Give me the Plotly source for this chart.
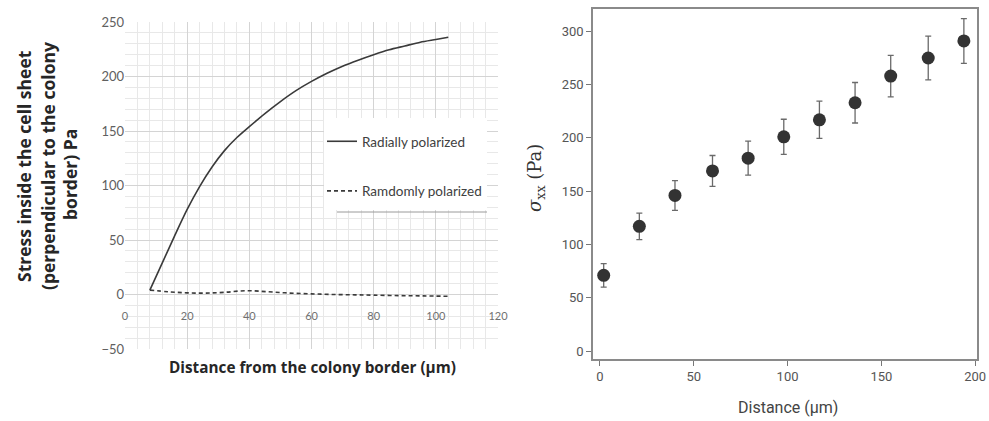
import plotly.graph_objects as go

# ---- Left chart data ----
radial_x = [8, 12, 16, 20, 24, 28, 32, 36, 40, 45, 50, 55, 60, 65, 70, 75, 80, 85, 90, 95, 100, 104]
radial_y = [4, 29, 54, 78, 99, 117, 132, 144, 154, 166, 177, 187, 195.5, 203, 209.5, 215, 220, 224.5, 228, 231.5, 234, 236]
random_x = [8, 14, 20, 26, 32, 39, 46, 53, 60, 67, 74, 80, 88, 96, 104]
random_y = [4, 2.5, 1.5, 1.3, 2, 3.5, 2.5, 1.3, 0.6, 0, -0.3, -0.6, -1, -1.3, -1.6]
left_xticks = [0, 20, 40, 60, 80, 100, 120]
left_yticks = [-50, 0, 50, 100, 150, 200, 250]

# ---- Right chart data ----
dist_x = [2, 21, 40, 60, 79, 98, 117, 136, 155, 175, 194]
sigma_y = [71, 117, 146, 169, 181, 201, 217, 233, 258, 275, 291]
sigma_err = [11, 12.5, 14, 14.5, 16, 16.5, 17.5, 19, 19.5, 20.5, 21]
right_xticks = [0, 50, 100, 150, 200]
right_yticks = [0, 50, 100, 150, 200, 250, 300]

W, H = 989, 421


def px(x):
    return x / W


def py(y):
    return 1 - y / H


lx0, lx1 = px(125), px(498)
ly0, ly1 = py(349), py(22)
rx0, rx1 = px(593), px(977)
ry0, ry1 = py(359), py(9)

fig = go.Figure()

fig.add_trace(go.Scatter(
    x=radial_x, y=radial_y, mode="lines", name="Radially polarized",
    line=dict(color="#3a3a3a", width=1.6, shape="spline", smoothing=0.8),
    xaxis="x", yaxis="y", legendgroup="a"))
fig.add_trace(go.Scatter(
    x=random_x, y=random_y, mode="lines", name="Ramdomly polarized",
    line=dict(color="#3a3a3a", width=1.6, dash="4px,3px", shape="spline"),
    xaxis="x", yaxis="y", legendgroup="b"))

fig.add_trace(go.Scatter(
    x=dist_x, y=sigma_y, mode="markers", showlegend=False,
    marker=dict(color="#333333", size=13),
    error_y=dict(type="data", array=sigma_err, color="#6a6a6a", thickness=1.3, width=3),
    xaxis="x2", yaxis="y2"))

zero_pos = ly0 + (ly1 - ly0) * (0 - (-50)) / 300.0

lato = "Lato, 'Open Sans', sans-serif"
bold_font = "'Open Sans', Lato, sans-serif"
narrow = "'Liberation Sans Narrow', Roboto, sans-serif"

fig.update_layout(
    template="none",
    width=W, height=H, autosize=False,
    margin=dict(l=0, r=0, t=0, b=0, pad=0, autoexpand=False),
    paper_bgcolor="white", plot_bgcolor="white",
    showlegend=True,
    legend=dict(
        x=px(322), y=py(126), xanchor="left", yanchor="top",
        bgcolor="rgba(255,255,255,0)", borderwidth=0,
        font=dict(family=lato, size=13.5, color="#404040"),
        traceorder="grouped", tracegroupgap=29, itemwidth=30,
    ),
    xaxis=dict(
        domain=[lx0, lx1], range=[0, 120], anchor="free", position=zero_pos,
        automargin=False,
        tickvals=left_xticks, ticks="outside", ticklen=11,
        tickcolor="rgba(0,0,0,0)",
        showgrid=True, gridcolor="#d4d4d4", gridwidth=1,
        minor=dict(dtick=4, ticks="", showgrid=True, gridcolor="#e8e8e8", gridwidth=1),
        zeroline=False, showline=False,
        tickfont=dict(family=lato, size=11, color="#707070"),
    ),
    yaxis=dict(
        domain=[ly0, ly1], range=[-50, 250], anchor="x",
        automargin=False,
        tickvals=left_yticks,
        showgrid=True, gridcolor="#d4d4d4", gridwidth=1,
        minor=dict(dtick=10, ticks="", showgrid=True, gridcolor="#e8e8e8", gridwidth=1),
        zeroline=False, showline=False, ticks="",
        tickfont=dict(family=lato, size=13, color="#606060"),
    ),
    xaxis2=dict(
        domain=[rx0, rx1], range=[-3.7, 201], anchor="y2",
        automargin=False, ticklabeloverflow="allow",
        tickvals=right_xticks, ticks="outside", ticklen=5, tickcolor="#777777",
        showgrid=False, zeroline=False,
        showline=True, mirror=True, linecolor="#8a8a8a", linewidth=1.5,
        tickfont=dict(family=narrow, size=13, color="#555555"),
    ),
    yaxis2=dict(
        domain=[ry0, ry1], range=[-7.5, 321], anchor="x2",
        automargin=False,
        tickvals=right_yticks, ticks="outside", ticklen=5, tickcolor="#777777",
        showgrid=False, zeroline=False,
        showline=True, mirror=True, linecolor="#8a8a8a", linewidth=1.5,
        tickfont=dict(family=narrow, size=13, color="#555555"),
    ),
    shapes=[
        dict(type="rect", xref="paper", yref="paper",
             x0=px(324), x1=px(487), y0=py(210), y1=py(118),
             fillcolor="white", line=dict(width=0), layer="above"),
        dict(type="line", xref="paper", yref="paper",
             x0=px(337), x1=px(487), y0=py(212), y1=py(212),
             line=dict(color="#9a9a9a", width=1), layer="above"),
    ],
    annotations=[
        dict(text=t, xref="paper", yref="paper", x=px(xc), y=py(yc),
             xanchor="center", yanchor="middle", textangle=-90, showarrow=False,
             font=dict(family=bold_font, size=17.5, color="#262626", weight="bold"))
        for t, xc, yc in [("Stress inside the cell sheet", 24, 166),
                          ("(perpendicular to the colony", 48, 166),
                          ("border) Pa", 70, 175)]
    ] + [
        dict(text="Distance from the colony border (µm)",
             xref="paper", yref="paper", x=px(312), y=py(367),
             xanchor="center", yanchor="middle", showarrow=False,
             font=dict(family=bold_font, size=15.3, color="#262626", weight="bold")),
        dict(text="<i>σ</i><sub>xx</sub> (Pa)",
             xref="paper", yref="paper", x=px(536), y=py(178),
             xanchor="center", yanchor="middle", textangle=-90, showarrow=False,
             font=dict(family="'DejaVu Serif', serif", size=18, color="#333333")),
        dict(text="Distance (µm)",
             xref="paper", yref="paper", x=px(788), y=py(407),
             xanchor="center", yanchor="middle", showarrow=False,
             font=dict(family=narrow, size=16, color="#444444")),
    ],
)

fig.write_html(
    "out.html",
    config={"displayModeBar": False},
    post_script="document.documentElement.style.overflow='hidden';"
                "document.body.style.margin='0';document.body.style.overflow='hidden';",
)
